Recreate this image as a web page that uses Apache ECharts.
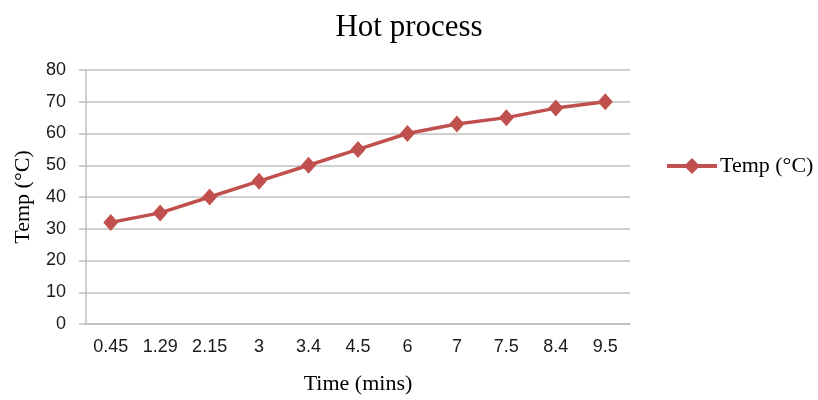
<!DOCTYPE html>
<html><head><meta charset="utf-8">
<script src="https://cdn.jsdelivr.net/npm/echarts@6/dist/echarts.min.js"></script>
<style>html,body{margin:0;padding:0;background:#fff}#c{width:818px;height:400px}</style>
</head><body><div id="c"></div>
<script>
const categories = ['0.45','1.29','2.15','3','3.4','4.5','6','7','7.5','8.4','9.5'];
const temps = [32,35,40,45,50,55,60,63,65,68,70];
const yTicks = {min:0, max:80, interval:10};

const chart = echarts.init(document.getElementById('c'));
const serif = '"Liberation Serif","Times New Roman",serif';
const sans = '"Liberation Sans","Open Sans",sans-serif';
chart.setOption({
  animation:false,
  title:{text:'Hot process', left:404, top:7, textAlign:'center',
    textStyle:{fontFamily:serif, fontSize:31, fontWeight:'normal', color:'#000'}},
  legend:{left:660, top:150, itemWidth:50, itemHeight:20, itemGap:0,
    lineStyle:{width:4},
    textStyle:{fontFamily:serif, fontSize:22, color:'#000', padding:[0,0,0,-2]},
    data:[{name:'Temp (°C)'}]},
  grid:{left:86, right:188, top:70, bottom:76, containLabel:false, outerBoundsMode:'none'},
  xAxis:{type:'category', data:categories, boundaryGap:true,
    name:'Time (mins)', nameLocation:'middle', nameGap:49,
    nameTextStyle:{fontFamily:serif, fontSize:22, color:'#000'},
    axisLine:{lineStyle:{color:'#bfbfbf', width:1.5}},
    axisTick:{show:false},
    axisLabel:{fontFamily:sans, fontSize:18, color:'#1a1a1a', margin:14}},
  yAxis:{type:'value', min:yTicks.min, max:yTicks.max, interval:yTicks.interval,
    name:'Temp (°C)', nameLocation:'middle', nameGap:52,
    nameTextStyle:{fontFamily:serif, fontSize:22, color:'#000'},
    axisLine:{show:true, lineStyle:{color:'#bfbfbf', width:1.5}},
    axisTick:{show:true, length:7, lineStyle:{color:'#bfbfbf', width:1.5}},
    splitLine:{lineStyle:{color:'#bfbfbf', width:1.5}},
    axisLabel:{fontFamily:sans, fontSize:18, color:'#1a1a1a', margin:20}},
  series:[{name:'Temp (°C)', type:'line', data:temps,
    symbol:'diamond', symbolSize:[15,17],
    lineStyle:{color:'#c0504d', width:3.5},
    itemStyle:{color:'#c0504d'}}]
});
</script></body></html>
